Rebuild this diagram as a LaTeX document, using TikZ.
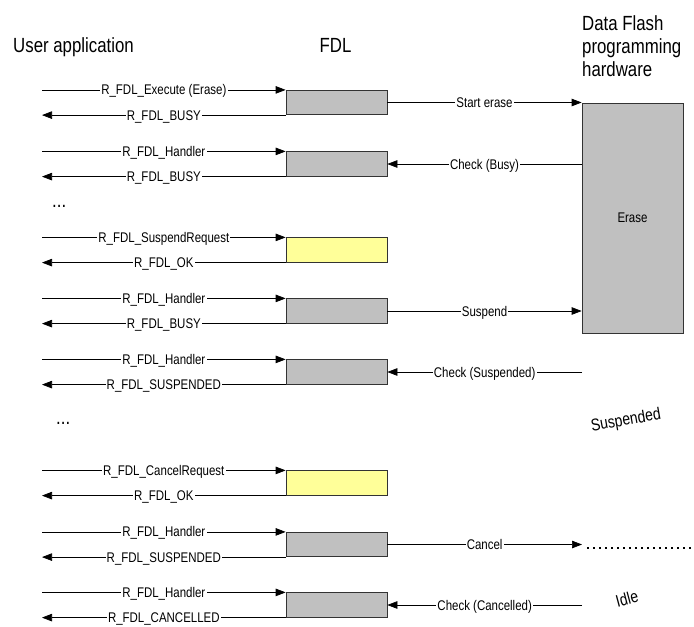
\documentclass[tikz,border=0pt]{standalone}
\usepackage{fontspec}
\setmainfont{Liberation Sans}[FakeStretch=0.82]
\usetikzlibrary{arrows.meta,calc}
\definecolor{boxgray}{HTML}{C0C0C0}
\definecolor{boxyellow}{HTML}{FFFF99}
\begin{document}
\begin{tikzpicture}[x=1pt,y=-1pt,
  fdlbox/.style={draw=black!80, fill=boxgray, line width=0.7pt,
    minimum width=101pt, minimum height=24.5pt, inner sep=0pt},
  reqbox/.style={fdlbox, fill=boxyellow},
  msg/.style={line width=0.7pt, -{Triangle[length=10pt,width=7.5pt]}},
  plain/.style={line width=0.7pt},
  lbl/.style={fill=white, inner xsep=1.2pt, inner ysep=0.8pt,
    text height=10pt, text depth=0pt, font=\fontsize{14}{16}\selectfont},
  heading/.style={inner sep=0pt, font=\fontsize{20.5}{23.3}\selectfont},
  state/.style={inner sep=0pt, font=\fontsize{17}{19}\selectfont}]
\useasboundingbox (0,0) rectangle (694,627);

% column headings
\node[heading, anchor=base] (hUser) at (73.5,52) {User application};
\node[heading, anchor=base] (hFdl) at (335.5,52) {FDL};
\node[heading, anchor=north west, align=left] (hHw) at (582,15.3)
  {Data Flash\\programming\\hardware};

% left end of the user-side arrows
\coordinate (ux) at (42,0);

% FDL activity boxes
\node[fdlbox] (f1) at (336.5,102.5) {};
\node[fdlbox] (f2) at (336.5,164) {};
\node[reqbox] (f3) at (336.5,250) {};
\node[fdlbox] (f4) at (336.5,311) {};
\node[fdlbox] (f5) at (336.5,372) {};
\node[reqbox] (f6) at (336.5,483) {};
\node[fdlbox] (f7) at (336.5,544.5) {};
\node[fdlbox] (f8) at (336.5,605) {};

% Data Flash hardware: erase in progress
\node[fdlbox, minimum height=230pt, font=\fontsize{14}{16}\selectfont]
  (df) at (632.5,218) {Erase};

% hardware states after the erase box
\node[state, rotate=10] (sSusp) at (626,421) {Suspended};
\node[state, rotate=15] (sIdle) at (627,599) {Idle};
\coordinate (hx) at (582,0);

% continuation marks
\node[heading, anchor=base west] (dots1) at (52,207) {...};
\node[heading, anchor=base west] (dots2) at (56,424) {...};

% user application <-> FDL calls
\draw[msg] (ux |- f1.north west) -- node[lbl]{R\_FDL\_Execute (Erase)} (f1.north west);
\draw[msg] (f1.south west) -- node[lbl]{R\_FDL\_BUSY} (ux |- f1.south west);

\draw[msg] (ux |- f2.north west) -- node[lbl]{R\_FDL\_Handler} (f2.north west);
\draw[msg] (f2.south west) -- node[lbl]{R\_FDL\_BUSY} (ux |- f2.south west);

\draw[msg] (ux |- f3.north west) -- node[lbl]{R\_FDL\_SuspendRequest} (f3.north west);
\draw[msg] (f3.south west) -- node[lbl]{R\_FDL\_OK} (ux |- f3.south west);

\draw[msg] (ux |- f4.north west) -- node[lbl]{R\_FDL\_Handler} (f4.north west);
\draw[msg] (f4.south west) -- node[lbl]{R\_FDL\_BUSY} (ux |- f4.south west);

\draw[msg] (ux |- f5.north west) -- node[lbl]{R\_FDL\_Handler} (f5.north west);
\draw[msg] (f5.south west) -- node[lbl]{R\_FDL\_SUSPENDED} (ux |- f5.south west);

\draw[msg] (ux |- f6.north west) -- node[lbl]{R\_FDL\_CancelRequest} (f6.north west);
\draw[msg] (f6.south west) -- node[lbl]{R\_FDL\_OK} (ux |- f6.south west);

\draw[msg] (ux |- f7.north west) -- node[lbl]{R\_FDL\_Handler} (f7.north west);
\draw[msg] (f7.south west) -- node[lbl]{R\_FDL\_SUSPENDED} (ux |- f7.south west);

\draw[msg] (ux |- f8.north west) -- node[lbl]{R\_FDL\_Handler} (f8.north west);
\draw[msg] (f8.south west) -- node[lbl]{R\_FDL\_CANCELLED} (ux |- f8.south west);

% FDL <-> hardware
\draw[msg] (f1.east) -- node[lbl]{Start erase} (df.west |- f1.east);
\draw[msg] (df.west |- f2.east) -- node[lbl]{Check (Busy)} (f2.east);
\draw[msg] (f4.east) -- node[lbl]{Suspend} (df.west |- f4.east);
\draw[msg] (hx |- f5.east) -- node[lbl]{Check (Suspended)} (f5.east);
\draw[msg] (f7.east) -- node[lbl]{Cancel} (hx |- f7.east);
\draw[msg] (hx |- f8.east) -- node[lbl]{Check (Cancelled)} (f8.east);

% dotted trail after the cancel request
\coordinate (trailA) at (587,548);
\coordinate (trailB) at (694,548);
\draw[line width=2pt, dash pattern=on 2pt off 4pt] (trailA) -- (trailB);
\end{tikzpicture}
\end{document}
